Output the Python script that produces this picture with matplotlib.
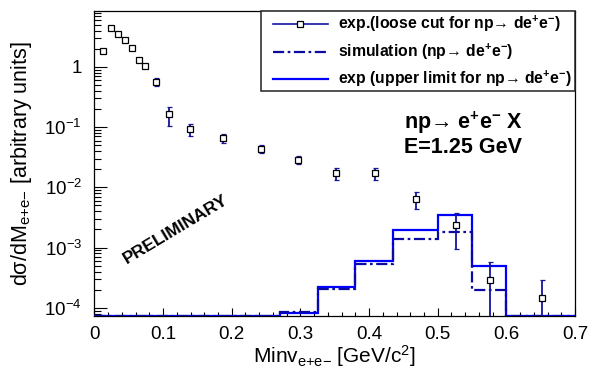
import numpy as np
import matplotlib
matplotlib.use("Agg")
import matplotlib.pyplot as plt
from matplotlib.ticker import MultipleLocator, LogLocator, NullFormatter
from matplotlib.lines import Line2D
from matplotlib.patches import Rectangle

plt.rcParams['font.family'] = ['Liberation Sans', 'DejaVu Sans']
plt.rcParams['mathtext.default'] = 'regular'

# ---- data: experimental points (loose cut) ----
mass = [0.013, 0.024, 0.034, 0.044, 0.0545, 0.065, 0.074, 0.089, 0.109,
        0.139, 0.187, 0.243, 0.297, 0.352, 0.408, 0.468, 0.526, 0.576, 0.652]
dsigma = [1.85, 4.4, 3.46, 2.82, 2.07, 1.31, 1.04, 0.57, 0.163,
          0.0916, 0.0664, 0.0442, 0.029, 0.0173, 0.0173, 0.0063, 0.00236,
          2.9e-4, 1.45e-4]
dsigma_hi = [1.95, 4.55, 3.55, 2.9, 2.13, 1.42, 1.13, 0.66, 0.2155,
             0.112, 0.0773, 0.0507, 0.0333, 0.0207, 0.0207, 0.00826, 0.0038,
             5.78e-4, 2.93e-4]
dsigma_lo = [1.75, 4.25, 3.37, 2.74, 2.01, 1.21, 0.96, 0.49, 0.105,
             0.0716, 0.0541, 0.0373, 0.0242, 0.0134, 0.0134, 0.0043, 0.00095,
             0.0, 0.0]

# ---- histograms ----
bin_edges = [0.0, 0.27, 0.325, 0.38, 0.435, 0.5, 0.55, 0.6, 0.7]
upper_limit = [0.0, 8.3e-5, 2.24e-4, 6.07e-4, 1.94e-3, 3.46e-3, 4.89e-4, 0.0]
simulation = [0.0, 8.5e-5, 2.06e-4, 5.27e-4, 1.41e-3, 1.82e-3, 1.95e-4, 0.0]

# ---- ticks ----
x_ticks = [0.0, 0.1, 0.2, 0.3, 0.4, 0.5, 0.6, 0.7]
x_tick_labels = ['0', '0.1', '0.2', '0.3', '0.4', '0.5', '0.6', '0.7']
y_ticks = [1e-4, 1e-3, 1e-2, 1e-1, 1.0]
y_tick_labels = ['10$^{-4}$', '10$^{-3}$', '10$^{-2}$', '10$^{-1}$', '1']

legend_labels = ['exp.(loose cut for np→ de$^{+}$e$^{-}$)',
                 'simulation (np→ de$^{+}$e$^{-}$)',
                 'exp (upper limit for np→ de$^{+}$e$^{-}$)']

YMIN, YMAX = 7.3e-5, 8.5
C_NAVY = '#14149c'
C_SIM = '#0a0aa0'
C_UP = '#0000ff'

fig = plt.figure(figsize=(5.89, 3.69), dpi=100)
ax = fig.add_axes([0.1604, 0.1436, 0.8158, 0.8266])
ax.set_yscale('log')
ax.set_xlim(0, 0.7)
ax.set_ylim(YMIN, YMAX)

up_plot = np.where(np.array(upper_limit) > 0, upper_limit, YMIN)
sim_plot = np.where(np.array(simulation) > 0, simulation, YMIN)
ax.stairs(up_plot, bin_edges, baseline=None, color=C_UP, lw=1.6, zorder=3)
ax.stairs(sim_plot, bin_edges, baseline=None, color=C_SIM, lw=1.6,
          linestyle=(0, (5.0, 1.6, 1.2, 1.6)), zorder=3)

y = np.array(dsigma)
yerr = [y - np.array(dsigma_lo), np.array(dsigma_hi) - y]
ax.errorbar(mass, dsigma, yerr=yerr, fmt='s', ms=4.5, mfc='white', mec='black',
            mew=0.9, ecolor=C_NAVY, elinewidth=1.3, capsize=1.8, capthick=1.2,
            zorder=4)

ax.set_xticks(x_ticks)
ax.set_xticklabels(x_tick_labels)
ax.xaxis.set_minor_locator(MultipleLocator(0.02))
ax.set_yticks(y_ticks)
ax.set_yticklabels(y_tick_labels)
ax.yaxis.set_minor_locator(LogLocator(base=10, subs=np.arange(2, 10)))
ax.yaxis.set_minor_formatter(NullFormatter())
ax.tick_params(axis='both', which='both', direction='in', top=False, right=False)
ax.tick_params(axis='x', which='major', length=5.8, width=0.8, pad=7, labelsize=13.5)
ax.tick_params(axis='x', which='minor', length=2.9, width=0.8)
ax.tick_params(axis='y', which='major', length=9.4, width=0.8, pad=9, labelsize=13.5)
ax.tick_params(axis='y', which='minor', length=4.7, width=0.8)
for s in ax.spines.values():
    s.set_linewidth(0.9)

ax.set_xlabel('Minv$_{e{+}e{-}}$ [GeV/c$^{2}$]', fontsize=15, va='top')
ax.xaxis.set_label_coords(0.5, -0.088)
ax.set_ylabel('dσ/dM$_{e{+}e{-}}$ [arbitrary units]', fontsize=15.5, va='center')
ax.yaxis.set_label_coords(-0.151, 0.5)

# legend box
ax.add_patch(Rectangle((0.3465, 0.7377), 0.6535, 0.2623, transform=ax.transAxes,
                       facecolor='white', edgecolor='#222222', lw=1.1, zorder=5,
                       clip_on=False))
rows = [0.957, 0.8656, 0.777]
hx0, hx1, hm, tx = 0.3709, 0.4853, 0.4277, 0.5061
ax.add_line(Line2D([hx0, hx1], [rows[0]] * 2, transform=ax.transAxes, color=C_NAVY,
                   lw=1.2, zorder=6))
ax.add_line(Line2D([hm], [rows[0]], transform=ax.transAxes, marker='s', ms=4.5,
                   mfc='white', mec='black', mew=0.9, zorder=7))
ax.add_line(Line2D([hx0, hx1], [rows[1]] * 2, transform=ax.transAxes, color=C_SIM,
                   lw=1.6, linestyle=(0, (5.0, 1.6, 1.2, 1.6)), zorder=6))
ax.add_line(Line2D([hx0, hx1], [rows[2]] * 2, transform=ax.transAxes, color=C_UP,
                   lw=1.6, zorder=6))
for r, lab in zip(rows, legend_labels):
    ax.text(tx, r, lab, transform=ax.transAxes, fontsize=11.3, fontweight='bold',
            va='center', ha='left', zorder=7)

ax.text(0.644, 0.633, 'np→ e$^{+}$e$^{-}$ X', transform=ax.transAxes, fontsize=15.5,
        fontweight='bold', va='center', ha='left')
ax.text(0.644, 0.554, 'E=1.25 GeV', transform=ax.transAxes, fontsize=15.5,
        fontweight='bold', va='center', ha='left')
ax.text(0.1696, 0.285, 'PRELIMINARY', transform=ax.transAxes, fontsize=12.6,
        fontweight='bold', rotation=31, rotation_mode='anchor', ha='center', va='center')

fig.savefig('out.png', dpi=100)
